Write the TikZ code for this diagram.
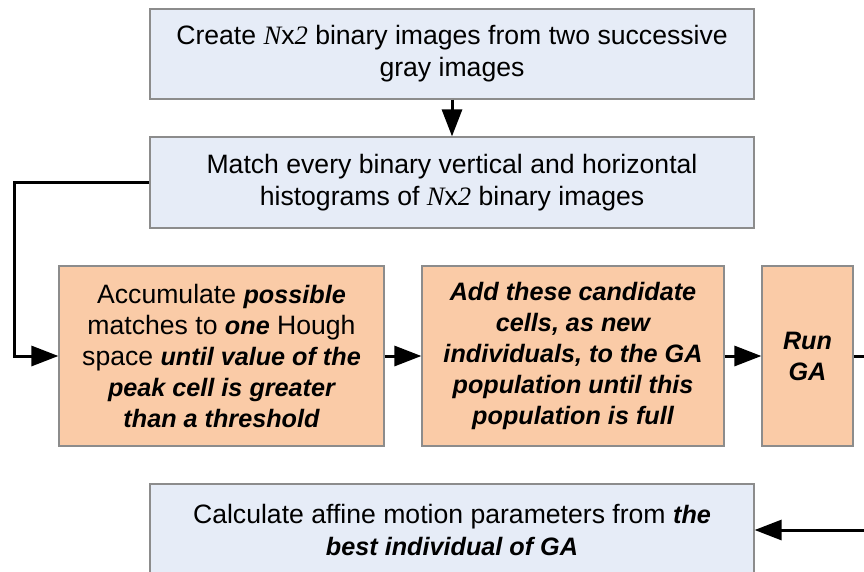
\documentclass[tikz,border=0pt]{standalone}
\usepackage{fontspec}
\setmainfont{Liberation Sans}
\newfontfamily\tnrfont{Liberation Serif}
\usepackage{xcolor}
\usepackage{tikz}
\usetikzlibrary{arrows.meta,positioning}

\definecolor{boxblue}{RGB}{230,236,247}
\definecolor{boxpeach}{RGB}{250,203,167}
\definecolor{boxedge}{RGB}{140,140,140}

\newcommand{\Nxtwo}{{\tnrfont\itshape N}x{\tnrfont\itshape 2}}
\newcommand{\bi}[1]{{\fontsize{25.2}{31}\selectfont\bfseries\itshape #1}}

\begin{document}
\begin{tikzpicture}[
    x=1pt, y=-1pt,
    bluebox/.style={draw=boxedge, fill=boxblue, line width=1.2pt, inner sep=0pt,
                    minimum width=604pt, align=center,
                    font=\fontsize{26.6}{32}\selectfont},
    peachbox/.style={draw=boxedge, fill=boxpeach, line width=1.2pt, inner sep=0pt,
                     minimum height=180pt, align=center,
                     font=\fontsize{26.6}{31}\selectfont},
    arrow/.style={-{Triangle[length=27pt,width=20pt]}, line width=3pt},
]
\clip (0,0) rectangle (864,571);

% ── Row 1: Binary images ──
\node[bluebox, minimum height=90pt] (create) at (452,54)
    {Create \Nxtwo{} binary images from two successive\\gray images};
\node[bluebox, minimum height=91pt] (match) at (452,182.5)
    {Match every binary vertical and horizontal\\histograms of \Nxtwo{} binary images};

% ── Row 2: Hough space and GA ──
\node[peachbox, minimum width=325pt] (accum) at (221.5,356)
    {Accumulate \bi{possible}\\matches to \bi{one} Hough\\space \bi{until value of the}\\\bi{peak cell is greater}\\\bi{than a threshold}};
\node[peachbox, minimum width=302pt] (addga) at (573,356)
    {\bi{Add these candidate}\\\bi{cells, as new}\\\bi{individuals, to the GA}\\\bi{population until this}\\\bi{population is full}};
\node[peachbox, minimum width=91pt] (runga) at (807.5,356)
    {\bi{Run}\\\bi{GA}};

% ── Row 3: Motion parameters ──
\node[bluebox, minimum height=92pt] (calc) at (452,530)
    {Calculate affine motion parameters from \bi{the}\\\bi{best individual of GA}};

% ── Arrows ──
\draw[arrow] (create) -- (match);
\draw[arrow] (match.west) -- (14,182.5) |- (accum.west);
\draw[arrow] (accum) -- (addga);
\draw[arrow] (addga) -- (runga);
\draw[arrow] (runga.east) -- (890,356) |- (calc.east);

\end{tikzpicture}
\end{document}
